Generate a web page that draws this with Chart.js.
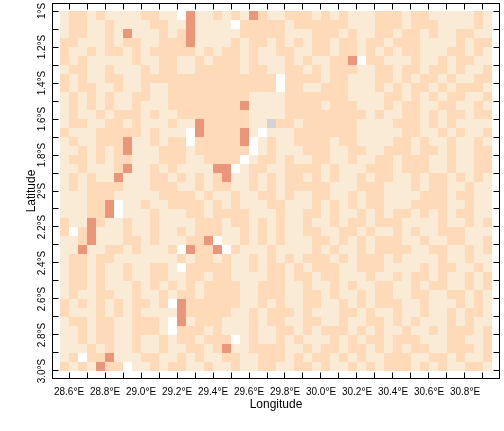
<!DOCTYPE html>
<html>
<head>
<meta charset="utf-8">
<title>Longitude / Latitude grid</title>
<script src="https://cdn.jsdelivr.net/npm/chart.js@4/dist/chart.umd.min.js"></script>
<style>
  html, body { margin: 0; padding: 0; background: #fff; }
  canvas { display: block; }
</style>
</head>
<body>
<canvas id="gridChart" width="504" height="431"></canvas>
<script>
// cell centres
const lonCells = [
  28.575, 28.625, 28.675, 28.725, 28.775, 28.825, 28.875, 28.925, 28.975, 29.025, 29.075, 29.125,
  29.175, 29.225, 29.275, 29.325, 29.375, 29.425, 29.475, 29.525, 29.575, 29.625, 29.675, 29.725,
  29.775, 29.825, 29.875, 29.925, 29.975, 30.025, 30.075, 30.125, 30.175, 30.225, 30.275, 30.325,
  30.375, 30.425, 30.475, 30.525, 30.575, 30.625, 30.675, 30.725, 30.775, 30.825, 30.875, 30.925
];
const latCells = [
  -1.025, -1.075, -1.125, -1.175, -1.225, -1.275, -1.325, -1.375, -1.425, -1.475,
  -1.525, -1.575, -1.625, -1.675, -1.725, -1.775, -1.825, -1.875, -1.925, -1.975,
  -2.025, -2.075, -2.125, -2.175, -2.225, -2.275, -2.325, -2.375, -2.425, -2.475,
  -2.525, -2.575, -2.625, -2.675, -2.725, -2.775, -2.825, -2.875, -2.925, -2.975
];

// one string per latitude, one letter per longitude
// a, b, c = the three classes, w = white cell, g = grey cell
const cellRows = [
  'abbabaaaabba' + 'awcaababacba' + 'abbbababaaab' + 'bbabbaaaaaba',
  'abbaabaaaabb' + 'aacaaaawbbbb' + 'babbbbbbaaab' + 'bbabbbaaaaba',
  'abbaabacaaab' + 'abcaaaaabbbb' + 'baaabbbabaab' + 'babbabaabbaa',
  'bbaaababbaab' + 'bbcaaaababba' + 'bababbabbabb' + 'abbbaaaababb',
  'baababbababb' + 'bbbababbabaa' + 'bbaabbabbaba' + 'babbaaabbaba',
  'babaaaaabaab' + 'baababbbabaa' + 'ababaabbcwbb' + 'aaabaababbaa',
  'abbaabaaabab' + 'baabbbbbabba' + 'abbababbbaab' + 'babbabbabaab',
  'babaabbaabbb' + 'bbbbbbbbbbbb' + 'wbbbbabbaaab' + 'bababbabaabb',
  'babbaabaabaa' + 'bbbbbbbbbbbb' + 'wbbaabbbaaab' + 'ababbababbba',
  'abababaabbaa' + 'bbbbbbbbbaaa' + 'abbbbbbbaaaa' + 'bbabababbaab',
  'abababaabaaa' + 'bbbbbbbbcaaa' + 'abbbbabbbaaa' + 'babbaabbaaba',
  'abaababbbaba' + 'abbbbbbbbaaa' + 'abbbbbbbbbab' + 'aabbababbabb',
  'abbaabbabaaa' + 'baacbbbbbaag' + 'bbabbbbbbaaa' + 'abbbababaaaa',
  'baaabbbbbaba' + 'aawcbbbbcawa' + 'aabbbbbbbaaa' + 'aabbaababaab',
  'abaabbbcaaba' + 'bbwbbbbbcwab' + 'aabbbbabbaaa' + 'abbabaabaaba',
  'aabababcaaab' + 'bbabbbbbbwab' + 'aaabbbaabbaa' + 'bbbabbabaabb',
  'abbababbaaab' + 'bbaabbbbwabb' + 'abaabbaabaab' + 'babbbaabaabb',
  'aabaaabcaaba' + 'baaaaccwabba' + 'abbbbabaaabb' + 'babbbaabaabb',
  'ababaacaaabb' + 'abababcaabab' + 'abbababaabab' + 'baababbababa',
  'ababbbbaaabb' + 'baababbaabab' + 'abbbbbaaabbb' + 'aaababbaabaa',
  'aaabbbaaaaab' + 'bbbabaabaabb' + 'abaabbaababb' + 'aaaabbbabbaa',
  'aaabbcwaabaa' + 'bbbbababaaab' + 'baaababababb' + 'aaabbbbaabaa',
  'aaabbcwaaaba' + 'aabbabbbbaaa' + 'baabbabaabab' + 'abbabababbaa',
  'baacbaabaaba' + 'aaabbbabbaba' + 'baabaababbab' + 'bbaaaabaabab',
  'bwbcaaabaaba' + 'ababbbaababa' + 'baabbaabbaba' + 'ababaabbbaaa',
  'aabcaaabbaba' + 'aabbcwaababa' + 'baaabbababab' + 'bbaabaabbaab',
  'aacaabbabaaa' + 'bwcbbcwbaaab' + 'aaaababaabab' + 'bbbaabbaabab',
  'abbabbaaaaaa' + 'ababbabaabab' + 'ababbbababbb' + 'abaaaabaabaa',
  'abbabaabaabb' + 'awbbbbbaabab' + 'bababbbaabbb' + 'aaaababbaaba',
  'abbabaabaabb' + 'aabbabbaaaab' + 'babbabbaaaba' + 'ababbabaabab',
  'abbabaaababa' + 'bababbbbaabb' + 'baabaababaab' + 'baababbaabab',
  'abaabbaabaab' + 'abbabbbbaabb' + 'baabbabaabab' + 'baabbaabbaba',
  'bababababbab' + 'wcbbbbbbaaba' + 'baabbaababab' + 'bbaabaaababa',
  'baaabababaaa' + 'acbbbbbaabab' + 'bbabaaabbaba' + 'abaabaababba',
  'abbabbaabbba' + 'wcabbbaaabab' + 'baabbaabaabb' + 'ababaaababaa',
  'aababbaabbba' + 'wbbbabaaabaa' + 'bbababbbabab' + 'aabaababbbab',
  'aababbaabaab' + 'abbabbbwabaa' + 'babaaabababb' + 'abbbaaabbaab',
  'aaababaabaab' + 'aabbabcaabbb' + 'baababbabbab' + 'ababbaabbbab',
  'abwbbcaaabba' + 'ababaabbaabb' + 'bababbababaa' + 'bbbaabbabaab',
  'babacbbwaaba' + 'bbaabaabaabb' + 'aabbabaababa' + 'bbbababaabba'
];

const classCodes = ['a', 'b', 'c', 'w', 'g'];
const classColors = ['#FAEBD7', '#FFDAB9', '#E9967A', '#FFFFFF', '#D3D3D3'];

const lonTicks = [
  28.6, 28.7, 28.8, 28.9, 29.0, 29.1, 29.2, 29.3, 29.4, 29.5, 29.6, 29.7,
  29.8, 29.9, 30.0, 30.1, 30.2, 30.3, 30.4, 30.5, 30.6, 30.7, 30.8, 30.9
];
const lonLabels = [
  '28.6°E', '', '28.8°E', '', '29.0°E', '', '29.2°E', '', '29.4°E', '', '29.6°E', '',
  '29.8°E', '', '30.0°E', '', '30.2°E', '', '30.4°E', '', '30.6°E', '', '30.8°E', ''
];
const latTicks = [
  -1.0, -1.1, -1.2, -1.3, -1.4, -1.5, -1.6, -1.7, -1.8, -1.9, -2.0,
  -2.1, -2.2, -2.3, -2.4, -2.5, -2.6, -2.7, -2.8, -2.9, -3.0
];
const latLabels = [
  '1°S', '', '1.2°S', '', '1.4°S', '', '1.6°S', '', '1.8°S', '', '2°S',
  '', '2.2°S', '', '2.4°S', '', '2.6°S', '', '2.8°S', '', '3.0°S'
];

const lonRange = [28.5083333, 30.9916667];
const latRange = [-3.0416667, -0.9583333];

// half a 9px cell, rect points are drawn as radius / sqrt(2)
const cellRadius = 4.5 * Math.SQRT2;
const fontFamily = "'Liberation Sans', Arial, sans-serif";

function pointsFor(code) {
  const pts = [];
  cellRows.forEach((row, r) => {
    for (let c = 0; c < row.length; c++) {
      if (row[c] === code) pts.push({ x: lonCells[c], y: latCells[r] });
    }
  });
  return pts;
}

const datasets = classCodes.map((code, i) => ({
  label: code,
  data: pointsFor(code),
  pointStyle: 'rect',
  pointRadius: cellRadius,
  pointHoverRadius: cellRadius,
  pointBorderWidth: 0,
  pointBackgroundColor: classColors[i],
  showLine: false
}));

// keep the frame where it is in the reference, whatever the labels measure
function fixBox(width, height) {
  return scale => {
    if (width !== null) scale.width = width;
    if (height !== null) scale.height = height;
    scale.paddingLeft = scale.paddingRight = scale.paddingTop = scale.paddingBottom = 0;
  };
}

function axisBase(ticks, labels) {
  return {
    type: 'linear',
    border: { display: true, color: '#000', width: 1 },
    grid: { drawOnChartArea: false, drawTicks: true, tickLength: -6, color: '#000', lineWidth: 1 },
    afterBuildTicks: scale => { scale.ticks = ticks.map(v => ({ value: v })); },
    ticks: {
      autoSkip: false,
      color: '#000',
      font: { family: fontFamily, size: 10 },
      callback: (v, i) => labels[i]
    }
  };
}

function topRight(base) {
  base.ticks.display = false;
  return base;
}

const xAxis = axisBase(lonTicks, lonLabels);
Object.assign(xAxis, { position: 'bottom', min: lonRange[0], max: lonRange[1], afterFit: fixBox(null, 52.5) });
Object.assign(xAxis.ticks, { padding: 14, minRotation: 0, maxRotation: 0 });
xAxis.title = {
  display: true, text: 'Longitude', color: '#000',
  font: { family: fontFamily, size: 12 }, padding: { top: 0, bottom: 19 }
};

const yAxis = axisBase(latTicks, latLabels);
Object.assign(yAxis, { position: 'left', min: latRange[0], max: latRange[1], afterFit: fixBox(52.5, null) });
Object.assign(yAxis.ticks, { padding: 4, minRotation: 90, maxRotation: 90, crossAlign: 'center' });
yAxis.title = {
  display: true, text: 'Latitude', color: '#000',
  font: { family: fontFamily, size: 12 }, padding: { top: 24, bottom: 0 }
};

const x2Axis = topRight(axisBase(lonTicks, lonLabels));
Object.assign(x2Axis, { axis: 'x', position: 'top', min: lonRange[0], max: lonRange[1], afterFit: fixBox(null, 3.5) });

const y2Axis = topRight(axisBase(latTicks, latLabels));
Object.assign(y2Axis, { axis: 'y', position: 'right', min: latRange[0], max: latRange[1], afterFit: fixBox(4.5, null) });

new Chart(document.getElementById('gridChart'), {
  type: 'scatter',
  data: { datasets },
  options: {
    responsive: false,
    animation: false,
    events: [],
    layout: { padding: 0, autoPadding: false },
    plugins: { legend: { display: false }, tooltip: { enabled: false } },
    scales: { x: xAxis, y: yAxis, x2: x2Axis, y2: y2Axis }
  }
});
</script>
</body>
</html>
